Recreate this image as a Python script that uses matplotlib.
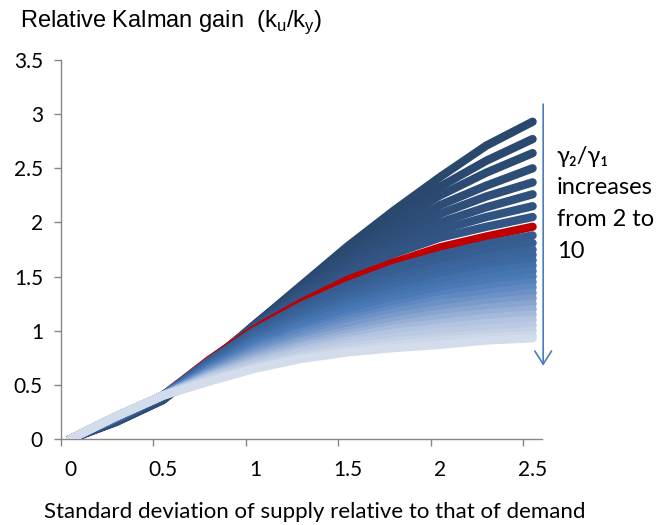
import matplotlib
matplotlib.use('Agg')
import matplotlib.pyplot as plt
from matplotlib.colors import LinearSegmentedColormap

plt.rcParams['font.family'] = ['Lato', 'DejaVu Sans']
plt.rcParams['mathtext.fontset'] = 'custom'
plt.rcParams['mathtext.rm'] = 'Liberation Sans'

# Standard deviation of supply relative to that of demand
sd_ratio = [0, 0.25, 0.5, 0.75, 1.0, 1.25, 1.5, 1.75, 2.0, 2.25, 2.5]

# Relative Kalman gain curves, gamma2/gamma1 rising from 2 (top) to 10 (bottom)
gain_curves = [
    [0, 0.16, 0.36, 0.69, 1.06, 1.42, 1.78, 2.11, 2.42, 2.71, 2.93],
    [0, 0.16, 0.36, 0.69, 1.06, 1.41, 1.75, 2.05, 2.33, 2.57, 2.77],
    [0, 0.16, 0.36, 0.70, 1.06, 1.40, 1.72, 2.00, 2.25, 2.46, 2.64],
    [0, 0.17, 0.37, 0.70, 1.05, 1.38, 1.68, 1.94, 2.16, 2.34, 2.50],
    [0, 0.17, 0.37, 0.71, 1.05, 1.36, 1.64, 1.88, 2.08, 2.24, 2.37],
    [0, 0.17, 0.38, 0.71, 1.04, 1.34, 1.60, 1.82, 2.00, 2.14, 2.26],
    [0, 0.18, 0.38, 0.72, 1.04, 1.32, 1.56, 1.76, 1.93, 2.05, 2.15],
    [0, 0.18, 0.39, 0.72, 1.03, 1.30, 1.53, 1.71, 1.86, 1.96, 2.05],
    [0, 0.19, 0.40, 0.73, 1.02, 1.26, 1.47, 1.63, 1.77, 1.87, 1.96],
    [0, 0.19, 0.40, 0.72, 1.00, 1.23, 1.42, 1.58, 1.70, 1.80, 1.88],
    [0, 0.19, 0.40, 0.71, 0.99, 1.20, 1.38, 1.53, 1.64, 1.73, 1.81],
    [0, 0.19, 0.40, 0.70, 0.97, 1.17, 1.34, 1.48, 1.59, 1.68, 1.75],
    [0, 0.20, 0.40, 0.69, 0.95, 1.14, 1.30, 1.44, 1.55, 1.63, 1.70],
    [0, 0.20, 0.40, 0.68, 0.93, 1.11, 1.27, 1.40, 1.50, 1.58, 1.65],
    [0, 0.20, 0.40, 0.67, 0.91, 1.09, 1.24, 1.36, 1.46, 1.54, 1.60],
    [0, 0.20, 0.40, 0.66, 0.89, 1.06, 1.20, 1.32, 1.41, 1.49, 1.55],
    [0, 0.20, 0.40, 0.65, 0.87, 1.03, 1.17, 1.28, 1.37, 1.44, 1.50],
    [0, 0.20, 0.40, 0.64, 0.85, 1.00, 1.13, 1.24, 1.33, 1.40, 1.45],
    [0, 0.21, 0.40, 0.63, 0.83, 0.98, 1.10, 1.20, 1.29, 1.35, 1.40],
    [0, 0.21, 0.40, 0.62, 0.81, 0.95, 1.07, 1.17, 1.25, 1.30, 1.35],
    [0, 0.21, 0.40, 0.61, 0.79, 0.92, 1.04, 1.13, 1.20, 1.26, 1.30],
    [0, 0.21, 0.40, 0.60, 0.77, 0.90, 1.00, 1.09, 1.16, 1.21, 1.25],
    [0, 0.21, 0.40, 0.59, 0.75, 0.87, 0.97, 1.05, 1.12, 1.16, 1.20],
    [0, 0.21, 0.40, 0.58, 0.73, 0.85, 0.94, 1.02, 1.07, 1.12, 1.15],
    [0, 0.21, 0.40, 0.57, 0.71, 0.82, 0.91, 0.98, 1.03, 1.07, 1.10],
    [0, 0.21, 0.40, 0.56, 0.69, 0.80, 0.88, 0.94, 0.99, 1.02, 1.05],
    [0, 0.21, 0.40, 0.55, 0.67, 0.77, 0.85, 0.90, 0.94, 0.97, 1.00],
    [0, 0.21, 0.40, 0.54, 0.66, 0.75, 0.82, 0.87, 0.91, 0.94, 0.96],
    [0, 0.21, 0.40, 0.53, 0.65, 0.74, 0.80, 0.84, 0.87, 0.91, 0.93],
]
highlight_index = 8  # the red curve

x_ticks = [0, 0.5, 1, 1.5, 2, 2.5]
x_tick_labels = ['0', '0.5', '1', '1.5', '2', '2.5']
y_ticks = [0, 0.5, 1, 1.5, 2, 2.5, 3, 3.5]
y_tick_labels = ['0', '0.5', '1', '1.5', '2', '2.5', '3', '3.5']

blues = LinearSegmentedColormap.from_list('blues', [
    (0.0, '#2a476c'), (0.25, '#325585'), (0.45, '#3d68a1'), (0.58, '#4a7bb8'),
    (0.72, '#7b9bcb'), (0.86, '#b3c4e0'), (1.0, '#d3dcea')])

fig = plt.figure(figsize=(6.56, 5.25), dpi=100)
ax = fig.add_axes([0.093, 0.1638, 0.733, 0.7219])

n = len(gain_curves)
for i, curve in enumerate(gain_curves):
    if i == highlight_index:
        color = '#c00000'
    else:
        color = blues(i / (n - 1))
    ax.plot(sd_ratio, curve, color=color, lw=6, solid_capstyle='round',
            solid_joinstyle='round', zorder=2 + i)

ax.set_xlim(-0.05, 2.55)
ax.set_ylim(0, 3.5)

grey = '#868686'
for side in ['top', 'right']:
    ax.spines[side].set_visible(False)
for side in ['left', 'bottom']:
    ax.spines[side].set_color(grey)
    ax.spines[side].set_linewidth(1.0)

ax.set_xticks(x_ticks)
ax.set_xticklabels(x_tick_labels)
ax.set_xticks([t - 0.05 for t in x_ticks], minor=True)
ax.tick_params(axis='x', which='major', length=0, pad=15, labelsize=15, labelcolor='black')
ax.tick_params(axis='x', which='minor', length=5, width=1, color=grey, direction='out')
ax.set_yticks(y_ticks)
ax.set_yticklabels(y_tick_labels)
ax.tick_params(axis='y', length=5, width=1, color=grey, direction='out', pad=8, labelsize=15)

fig.text(0.03, 0.957, r'Relative Kalman gain  (k$_\mathregular{u}$/k$_\mathregular{y}$)',
         fontsize=17, family='Liberation Sans', ha='left', va='center')
fig.text(0.48, 0.025, 'Standard deviation of supply relative to that of demand',
         fontsize=16, ha='center', va='center')

fig.text(0.849, 0.722, 'γ₂/γ₁\nincreases\nfrom 2 to\n10', fontsize=17,
         ha='left', va='top', linespacing=1.62, family=['Lato', 'DejaVu Sans'])

ax.annotate('', xy=(0.828, 0.298), xytext=(0.828, 0.807), xycoords='figure fraction',
            textcoords='figure fraction',
            arrowprops=dict(arrowstyle='->,head_length=0.95,head_width=0.6',
                            color='#4a7ebb', lw=1.2))

fig.savefig('out.png', dpi=100)
